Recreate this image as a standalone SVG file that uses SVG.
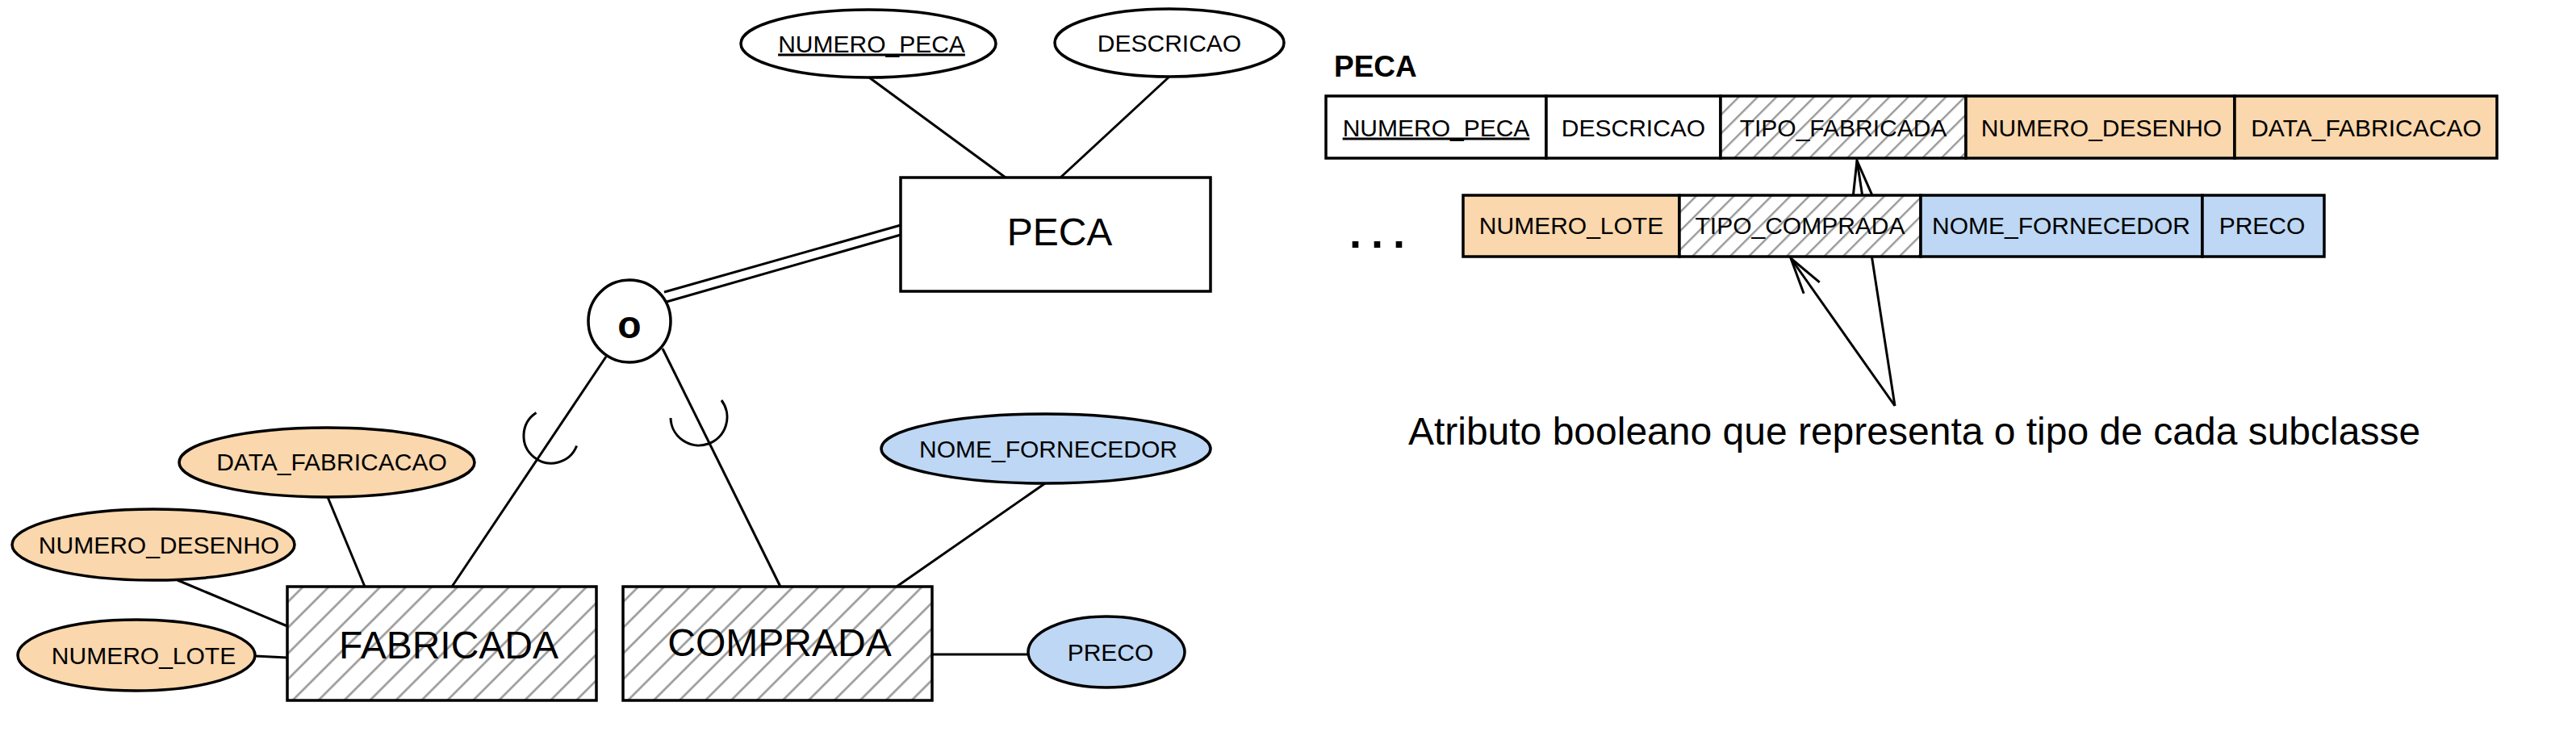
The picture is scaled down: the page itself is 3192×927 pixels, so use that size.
<svg xmlns="http://www.w3.org/2000/svg" width="3192" height="927" viewBox="0 0 3192 927">
<style>
  text { font-family: "Liberation Sans", Arial, sans-serif; fill: #000; }
  .attr { font-size: 30px; text-anchor: middle; }
  .ent { font-size: 48px; text-anchor: middle; }
  .ell { stroke: #000; stroke-width: 3.5; }
  .box { stroke: #000; stroke-width: 3.5; }
  .cell { stroke: #000; stroke-width: 3.5; }
  .ln { stroke: #000; stroke-width: 3; fill: none; }
  .white { fill: #fff; }
  .orange { fill: #fad7ac; }
  .blue { fill: #bdd7f4; }
</style>
<defs>
  <pattern id="hatchBig" patternUnits="userSpaceOnUse" width="22.6" height="20" patternTransform="rotate(45)">
    <rect width="22.6" height="20" fill="#fff"/>
    <line x1="11.3" y1="0" x2="11.3" y2="20" stroke="#999" stroke-width="2.6"/>
  </pattern>
  <pattern id="hatchSmall" patternUnits="userSpaceOnUse" width="16.5" height="20" patternTransform="rotate(45)">
    <rect width="16.5" height="20" fill="#fff"/>
    <line x1="8" y1="0" x2="8" y2="20" stroke="#999" stroke-width="2.4"/>
  </pattern>
  <marker id="open" markerUnits="userSpaceOnUse" viewBox="-50 -20 60 40" markerWidth="60" markerHeight="40" refX="0" refY="0" orient="auto">
    <path d="M -45 -12 L 0 0 L -45 12" fill="none" stroke="#000" stroke-width="3"/>
  </marker>
</defs>
<rect width="3192" height="927" fill="#fff"/>

<g id="connectors">
  <line class="ln" x1="1077" y1="96" x2="1246" y2="220"/>
  <line class="ln" x1="1449" y1="95" x2="1314" y2="220"/>
  <line class="ln" x1="823" y1="362" x2="1116" y2="279"/>
  <line class="ln" x1="826" y1="374" x2="1116" y2="291"/>
  <line class="ln" x1="751" y1="442" x2="560" y2="727"/>
  <line class="ln" x1="821" y1="432" x2="967" y2="727"/>
  <path class="ln" d="M 664.5 511.5 A 34 34 0 1 0 714.6 552.5"/>
  <path class="ln" d="M 831 518 A 35 35 0 1 0 894 496"/>
  <line class="ln" x1="406" y1="616" x2="452" y2="727"/>
  <line class="ln" x1="220" y1="719" x2="356" y2="776"/>
  <line class="ln" x1="316" y1="813" x2="356" y2="815"/>
  <line class="ln" x1="1295" y1="599" x2="1111" y2="727"/>
  <line class="ln" x1="1155" y1="811" x2="1274" y2="811"/>
  <line class="ln" x1="2348" y1="503" x2="2301" y2="199" marker-end="url(#open)"/>
  <line class="ln" x1="2348" y1="503" x2="2219" y2="320" marker-end="url(#open)"/>
</g>

<g id="attr-numero-peca">
  <ellipse class="ell white" cx="1076" cy="54" rx="158" ry="42"/>
  <text class="attr" x="1080" y="64.5" text-decoration="underline">NUMERO_PECA</text>
</g>
<g id="attr-descricao">
  <ellipse class="ell white" cx="1449" cy="53" rx="142" ry="42"/>
  <text class="attr" x="1449" y="64">DESCRICAO</text>
</g>
<g id="entity-peca">
  <rect class="box white" x="1116" y="220" width="384" height="141"/>
  <text class="ent" x="1313" y="304">PECA</text>
</g>
<g id="specialization">
  <circle class="ell white" cx="780" cy="398" r="51"/>
  <text x="780" y="419" font-size="48" font-weight="bold" text-anchor="middle">o</text>
</g>
<g id="attr-data-fabricacao">
  <ellipse class="ell orange" cx="405" cy="573" rx="183" ry="43"/>
  <text class="attr" x="411" y="583">DATA_FABRICACAO</text>
</g>
<g id="attr-numero-desenho">
  <ellipse class="ell orange" cx="190" cy="675" rx="175" ry="44"/>
  <text class="attr" x="197" y="686">NUMERO_DESENHO</text>
</g>
<g id="attr-numero-lote">
  <ellipse class="ell orange" cx="169" cy="812" rx="147" ry="44"/>
  <text class="attr" x="178" y="823">NUMERO_LOTE</text>
</g>
<g id="entity-fabricada">
  <rect class="box" x="356" y="727" width="383" height="141" fill="url(#hatchBig)"/>
  <text class="ent" x="556" y="816">FABRICADA</text>
</g>
<g id="entity-comprada">
  <rect class="box" x="772" y="727" width="383" height="141" fill="url(#hatchBig)"/>
  <text class="ent" x="966" y="813">COMPRADA</text>
</g>
<g id="attr-nome-fornecedor">
  <ellipse class="ell blue" cx="1296" cy="556" rx="204" ry="43"/>
  <text class="attr" x="1299" y="567">NOME_FORNECEDOR</text>
</g>
<g id="attr-preco">
  <ellipse class="ell blue" cx="1371" cy="808" rx="97" ry="44"/>
  <text class="attr" x="1376" y="819">PRECO</text>
</g>

<g id="table-title">
  <text x="1653" y="95" font-size="37" font-weight="bold">PECA</text>
</g>
<g id="table-row1">
  <rect class="cell white" x="1643" y="119" width="273" height="77"/>
  <text class="attr" x="1779.5" y="168.5" text-decoration="underline">NUMERO_PECA</text>
  <rect class="cell white" x="1916" y="119" width="216" height="77"/>
  <text class="attr" x="2024" y="168.5">DESCRICAO</text>
  <rect class="cell" x="2132" y="119" width="304" height="77" fill="url(#hatchSmall)"/>
  <text class="attr" x="2284" y="168.5">TIPO_FABRICADA</text>
  <rect class="cell orange" x="2436" y="119" width="333" height="77"/>
  <text class="attr" x="2604" y="168.5">NUMERO_DESENHO</text>
  <rect class="cell orange" x="2769" y="119" width="325" height="77"/>
  <text class="attr" x="2932" y="168.5">DATA_FABRICACAO</text>
</g>
<g id="table-row2">
  <text x="1672" y="307" font-size="54" font-weight="bold" letter-spacing="12">...</text>
  <rect class="cell orange" x="1813" y="242" width="268" height="76"/>
  <text class="attr" x="1947" y="290">NUMERO_LOTE</text>
  <rect class="cell" x="2081" y="242" width="299" height="76" fill="url(#hatchSmall)"/>
  <text class="attr" x="2230.5" y="290">TIPO_COMPRADA</text>
  <rect class="cell blue" x="2380" y="242" width="349" height="76"/>
  <text class="attr" x="2554" y="290">NOME_FORNECEDOR</text>
  <rect class="cell blue" x="2729" y="242" width="151" height="76"/>
  <text class="attr" x="2803" y="290">PRECO</text>
</g>
<g id="annotation">
  <text x="2372" y="551" font-size="48" text-anchor="middle">Atributo booleano que representa o tipo de cada subclasse</text>
</g>
</svg>
